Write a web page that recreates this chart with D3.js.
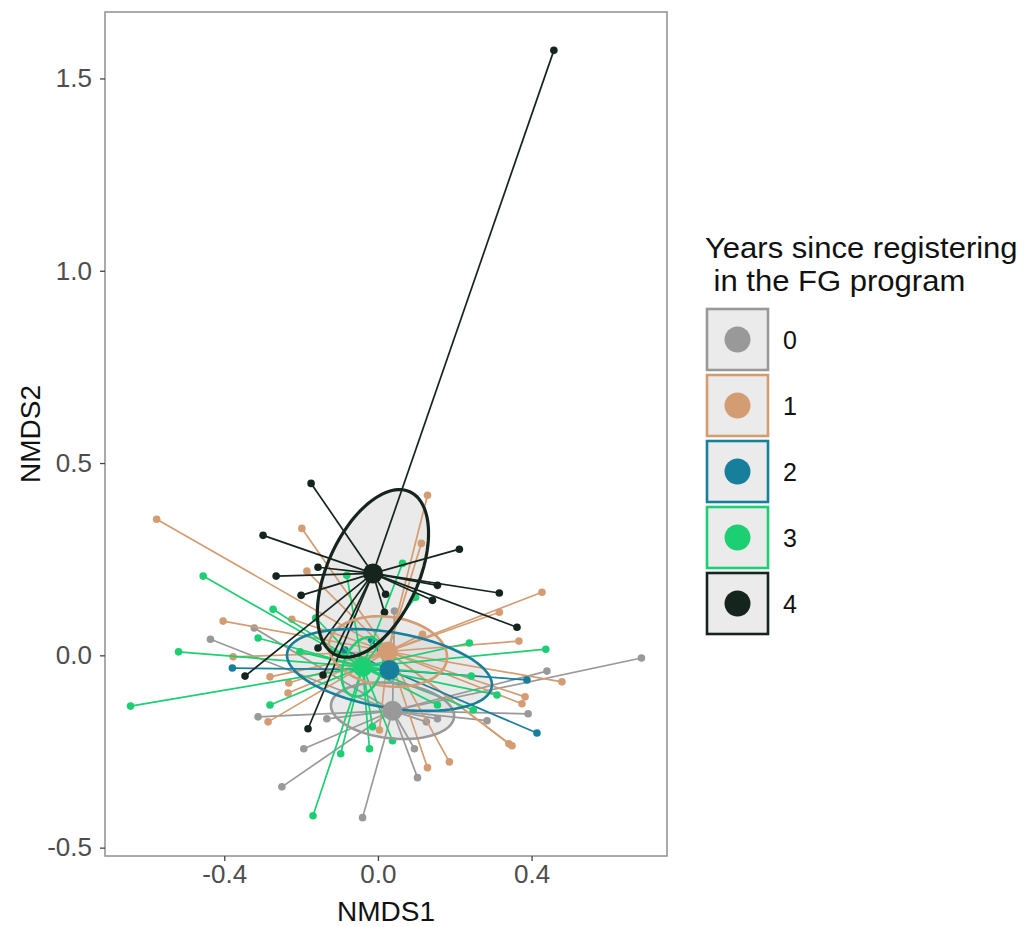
<!DOCTYPE html>
<html>
<head>
<meta charset="utf-8">
<script src="https://cdn.jsdelivr.net/npm/d3@7"></script>
<style>
body { margin: 0; background: #fff; }
text { font-family: "Liberation Sans", Arial, sans-serif; }
</style>
</head>
<body>
<div id="viz"></div>
<script>
var w = 1026;
var h = 927;

// years since registering
var groups = ["0", "1", "2", "3", "4"];
var colors = ["#999999", "#d39c72", "#177e9c", "#1ccf72", "#15251e"];

// site scores (NMDS1, NMDS2) per group
var year0 = [[0.686, -0.007], [0.440, -0.041], [0.391, -0.152], [0.284, -0.170], [0.095, -0.243],
    [0.126, -0.173], [0.155, -0.165], [0.103, -0.318], [-0.040, -0.422], [-0.250, -0.342],
    [-0.193, -0.243], [-0.312, -0.160], [-0.133, -0.165], [-0.436, 0.042], [-0.322, 0.071],
    [0.043, 0.115]];
var year1 = [[-0.576, 0.354], [-0.198, 0.330], [-0.185, 0.219], [-0.403, 0.089], [-0.377, -0.004],
    [-0.281, -0.056], [-0.232, -0.072], [-0.234, -0.098], [-0.286, -0.173], [-0.224, 0.094],
    [0.129, 0.416], [0.113, 0.291], [0.427, 0.164], [0.316, 0.112], [0.116, 0.055],
    [0.367, 0.037], [0.479, -0.069], [0.383, -0.108], [0.375, -0.126], [0.341, -0.230],
    [0.349, -0.235], [0.186, -0.277], [0.129, -0.292], [0.004, -0.194]];
var year2 = [[-0.379, -0.033], [0.414, -0.202], [0.388, -0.064], [-0.086, 0.014], [-0.016, 0.040]];
var year3 = [[-0.644, -0.132], [-0.455, 0.206], [-0.519, 0.009], [-0.273, 0.120], [-0.312, 0.045],
    [-0.281, -0.129], [-0.169, -0.417], [-0.097, -0.256], [-0.022, -0.243], [0.437, 0.016],
    [0.238, 0.032], [0.064, 0.239], [0.098, 0.151], [0.310, -0.103], [0.243, -0.054],
    [0.248, -0.142], [0.155, -0.129], [0.038, -0.222], [-0.014, -0.186], [-0.081, 0.208],
    [-0.162, 0.097], [-0.203, 0.009]];
var year4 = [[0.458, 1.573], [-0.174, 0.447], [-0.299, 0.312], [-0.265, 0.206], [-0.200, 0.156],
    [-0.156, 0.229], [-0.346, -0.054], [-0.156, 0.019], [-0.182, -0.191], [0.212, 0.276],
    [0.316, 0.162], [0.362, 0.073], [0.155, 0.182], [0.142, 0.143], [0.020, 0.159],
    [0.017, 0.112], [-0.143, -0.051]];
var sites = [year0, year1, year2, year3, year4];

// group centroids
var centroids = [[0.038, -0.144], [0.026, 0.010], [0.030, -0.038], [-0.040, -0.030], [-0.013, 0.213]];

// ellipses: semi axis a, semi axis b, angle (deg)
var ellA = [0.161, 0.155, 0.270, 0.080, 0.233];
var ellB = [0.072, 0.090, 0.098, 0.050, 0.119];
var ellAngle = [-6, -8, -9.5, 70, 65.7];

var xTicks = [-0.4, 0.0, 0.4];
var yTicks = [-0.5, 0.0, 0.5, 1.0, 1.5];

var panel = {left: 105, top: 12, right: 667, bottom: 856};

var allX = [], allY = [];
sites.forEach(function (s) {
    s.forEach(function (p) { allX.push(p[0]); allY.push(p[1]); });
});
var xr = d3.extent(allX), yr = d3.extent(allY);
var xpad = (xr[1] - xr[0]) * 0.05, ypad = (yr[1] - yr[0]) * 0.05;

var x = d3.scaleLinear()
    .domain([xr[0] - xpad, xr[1] + xpad])
    .range([panel.left, panel.right]);
var y = d3.scaleLinear()
    .domain([yr[0] - ypad, yr[1] + ypad])
    .range([panel.bottom, panel.top]);

var svg = d3.select("#viz")
    .append("svg")
    .attr("width", w)
    .attr("height", h);

svg.append("rect")
    .attr("width", w)
    .attr("height", h)
    .attr("fill", "#fff");

var plot = svg.append("g").attr("class", "plot");

// ellipse path from parameters
function ellipsePath(i) {
    var c = centroids[i], a = ellA[i], b = ellB[i];
    var th = ellAngle[i] * Math.PI / 180;
    var pts = d3.range(0, 101).map(function (k) {
        var t = k / 100 * 2 * Math.PI;
        var ex = c[0] + a * Math.cos(t) * Math.cos(th) - b * Math.sin(t) * Math.sin(th);
        var ey = c[1] + a * Math.cos(t) * Math.sin(th) + b * Math.sin(t) * Math.cos(th);
        return [x(ex), y(ey)];
    });
    return d3.line()(pts) + "Z";
}

var ellholder = plot.append("g").attr("class", "ellipses");
ellholder.selectAll("path")
    .data(groups)
    .enter()
    .append("path")
    .attr("d", function (d, i) { return ellipsePath(i); })
    .attr("fill", "#d6d6d6")
    .attr("fill-opacity", 0.5)
    .attr("stroke", "none");

// spider lines + points, group by group
groups.forEach(function (g, i) {
    var gg = plot.append("g").attr("class", "spider-" + g);
    var c = centroids[i];

    gg.selectAll("line")
        .data(sites[i])
        .enter()
        .append("line")
        .attr("x1", x(c[0]))
        .attr("y1", y(c[1]))
        .attr("x2", function (d) { return x(d[0]); })
        .attr("y2", function (d) { return y(d[1]); })
        .attr("stroke", colors[i])
        .attr("stroke-width", 1.7);

    gg.selectAll("circle")
        .data(sites[i])
        .enter()
        .append("circle")
        .attr("cx", function (d) { return x(d[0]); })
        .attr("cy", function (d) { return y(d[1]); })
        .attr("r", 3.8)
        .attr("fill", colors[i]);
});

// ellipse outlines
plot.append("g").selectAll("path")
    .data(groups)
    .enter()
    .append("path")
    .attr("d", function (d, i) { return ellipsePath(i); })
    .attr("fill", "none")
    .attr("stroke", function (d, i) { return colors[i]; })
    .attr("stroke-width", function (d, i) { return i == 4 ? 3.2 : 2.6; });

// centroids
plot.append("g").selectAll("circle")
    .data(centroids)
    .enter()
    .append("circle")
    .attr("cx", function (d) { return x(d[0]); })
    .attr("cy", function (d) { return y(d[1]); })
    .attr("r", 10)
    .attr("fill", function (d, i) { return colors[i]; });

// panel border
svg.append("rect")
    .attr("x", panel.left)
    .attr("y", panel.top)
    .attr("width", panel.right - panel.left)
    .attr("height", panel.bottom - panel.top)
    .attr("fill", "none")
    .attr("stroke", "#8f8f8f")
    .attr("stroke-width", 1.5);

// axes (plain hyphen for negatives, like R)
var fmt = function (d) { return d3.format(".1f")(d).replace("\u2212", "-"); };
var xAxis = d3.axisBottom(x).tickValues(xTicks).tickSize(5).tickPadding(4).tickFormat(fmt);
var yAxis = d3.axisLeft(y).tickValues(yTicks).tickSize(5).tickPadding(8).tickFormat(fmt);

var gx = svg.append("g")
    .attr("transform", "translate(0," + panel.bottom + ")")
    .call(xAxis);
var gy = svg.append("g")
    .attr("transform", "translate(" + panel.left + ",0)")
    .call(yAxis);

[gx, gy].forEach(function (ax) {
    ax.select(".domain").remove();
    ax.selectAll(".tick line").attr("stroke", "#444").attr("stroke-width", 1.3);
    ax.selectAll(".tick text")
        .attr("fill", "#4d4d4d")
        .style("font-size", "26px")
        .style("font-family", "'Liberation Sans', Arial, sans-serif");
});

svg.append("text")
    .attr("x", (panel.left + panel.right) / 2)
    .attr("y", 921)
    .attr("text-anchor", "middle")
    .style("font-size", "28px")
    .attr("fill", "#111")
    .text("NMDS1");

svg.append("text")
    .attr("transform", "translate(40," + (panel.top + panel.bottom) / 2 + ") rotate(-90)")
    .attr("text-anchor", "middle")
    .style("font-size", "28px")
    .attr("fill", "#111")
    .text("NMDS2");

// legend
var legend = svg.append("g").attr("class", "legend");

legend.append("text")
    .attr("transform", "translate(705,258) scale(1.07,1)")
    .style("font-size", "29px")
    .attr("fill", "#111")
    .text("Years since registering");
legend.append("text")
    .attr("transform", "translate(705,291) scale(1.07,1)")
    .style("font-size", "29px")
    .style("white-space", "pre")
    .attr("xml:space", "preserve")
    .attr("fill", "#111")
    .text(" in the FG program");

var keys = legend.selectAll("g.key")
    .data(groups)
    .enter()
    .append("g")
    .attr("class", "key")
    .attr("transform", function (d, i) { return "translate(707," + (309 + i * 66) + ")"; });

keys.append("rect")
    .attr("width", 61)
    .attr("height", 61)
    .attr("fill", "#ebebeb")
    .attr("stroke", function (d, i) { return colors[i]; })
    .attr("stroke-width", 2.6);

keys.append("circle")
    .attr("cx", 30.5)
    .attr("cy", 30.5)
    .attr("r", 13)
    .attr("fill", function (d, i) { return colors[i]; });

keys.append("text")
    .attr("x", 76)
    .attr("y", 30.5)
    .attr("dy", "0.36em")
    .style("font-size", "25px")
    .attr("fill", "#111")
    .text(function (d) { return d; });
</script>
</body>
</html>
